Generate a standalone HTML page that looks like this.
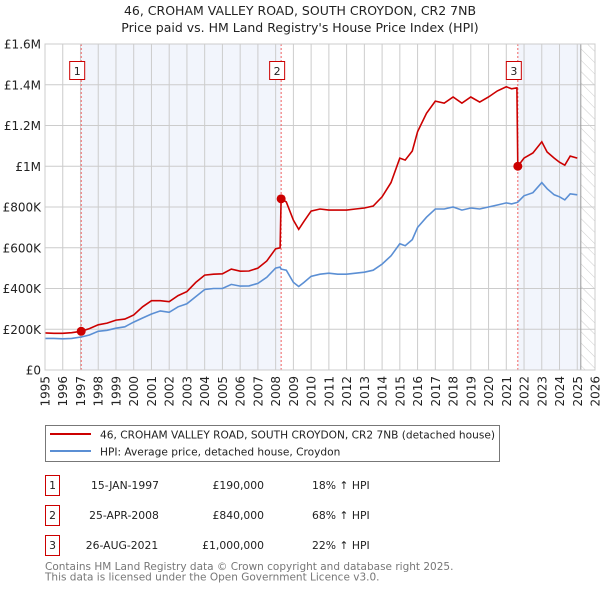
<!DOCTYPE html>
<html><head><meta charset="utf-8"><style>
body{margin:0;background:#fff;font-family:"DejaVu Sans","Liberation Sans",sans-serif;}
svg{display:block}
</style></head><body>
<svg id="chart" width="600" height="590" xmlns="http://www.w3.org/2000/svg" font-family="DejaVu Sans, Liberation Sans, sans-serif">
<text x="300" y="15" text-anchor="middle" font-size="12.5" fill="#222">46, CROHAM VALLEY ROAD, SOUTH CROYDON, CR2 7NB</text>
<text x="300" y="32" text-anchor="middle" font-size="12.5" fill="#222">Price paid vs. HM Land Registry's House Price Index (HPI)</text>
<defs><pattern id="hatch" width="8" height="8" patternUnits="userSpaceOnUse" patternTransform="rotate(-45)"><line x1="0" y1="0" x2="0" y2="8" stroke="#ccc" stroke-width="1"/></pattern></defs>
<g id="plot"></g>
<g>
<rect x="45.5" y="425.5" width="454" height="36" fill="#fff" stroke="#777"/>
<line x1="50" y1="434" x2="91" y2="434" stroke="#cc0000" stroke-width="2"/>
<text x="100" y="438.5" font-size="10.6" fill="#222">46, CROHAM VALLEY ROAD, SOUTH CROYDON, CR2 7NB (detached house)</text>
<line x1="50" y1="451" x2="91" y2="451" stroke="#5b8fd4" stroke-width="2"/>
<text x="100" y="455.5" font-size="10.6" fill="#222">HPI: Average price, detached house, Croydon</text>
</g>
<g font-size="10.8" fill="#222">
<rect x="45.5" y="475.5" width="14" height="20" fill="none" stroke="#cc0000"/><text x="52.5" y="489" text-anchor="middle">1</text>
<text x="125" y="489" text-anchor="middle">15-JAN-1997</text><text x="264" y="489" text-anchor="end">£190,000</text><text x="312" y="489">18% ↑ HPI</text>
<rect x="45.5" y="505.5" width="14" height="20" fill="none" stroke="#cc0000"/><text x="52.5" y="519" text-anchor="middle">2</text>
<text x="124" y="519" text-anchor="middle">25-APR-2008</text><text x="264" y="519" text-anchor="end">£840,000</text><text x="312" y="519">68% ↑ HPI</text>
<rect x="45.5" y="535.5" width="14" height="20" fill="none" stroke="#cc0000"/><text x="52.5" y="549" text-anchor="middle">3</text>
<text x="122" y="549" text-anchor="middle">26-AUG-2021</text><text x="264" y="549" text-anchor="end">£1,000,000</text><text x="312" y="549">22% ↑ HPI</text>
</g>
<text x="45" y="570" font-size="10.5" fill="#777">Contains HM Land Registry data © Crown copyright and database right 2025.</text>
<text x="45" y="580.5" font-size="10.5" fill="#777">This data is licensed under the Open Government Licence v3.0.</text>
</svg>
<script>
const years=[1995,1995.5,1996,1996.5,1997.04,1997.5,1998,1998.5,1999,1999.5,2000,2000.5,2001,2001.5,2002,2002.5,2003,2003.5,2004,2004.5,2005,2005.5,2006,2006.5,2007,2007.5,2008,2008.25,2008.31,2008.6,2009,2009.3,2009.6,2010,2010.5,2011,2011.5,2012,2012.5,2013,2013.5,2014,2014.5,2015,2015.3,2015.7,2016,2016.5,2017,2017.5,2018,2018.5,2019,2019.5,2020,2020.5,2021,2021.3,2021.6,2021.65,2022,2022.5,2023,2023.3,2023.7,2024,2024.3,2024.6,2025];
const hpiValues=[155,155,153,155,162,172,190,195,205,212,235,255,275,290,283,310,325,360,395,400,400,420,412,413,425,455,500,505,495,490,430,410,430,460,470,475,470,470,475,480,490,520,560,620,610,640,700,750,790,790,800,785,795,790,800,810,820,815,822,824,855,870,920,890,860,850,835,865,860];
const priceValues=[182,180,180,183,190,203,222,230,245,250,270,310,340,340,335,365,385,430,466,470,472,495,485,486,500,535,595,600,840,825,735,690,730,780,790,785,785,785,790,795,805,850,920,1040,1030,1075,1170,1260,1320,1310,1340,1310,1340,1315,1340,1370,1390,1380,1385,1000,1040,1065,1120,1070,1040,1020,1005,1050,1040];
const saleYears=[1997.04,2008.31,2021.65];
const salePrices=[190,840,1000];
const saleLabels=["1","2","3"];
const yTicks=[0,200,400,600,800,1000,1200,1400,1600];
const yTickLabels=["£0","£200K","£400K","£600K","£800K","£1M","£1.2M","£1.4M","£1.6M"];
const xTicks=[1995,1996,1997,1998,1999,2000,2001,2002,2003,2004,2005,2006,2007,2008,2009,2010,2011,2012,2013,2014,2015,2016,2017,2018,2019,2020,2021,2022,2023,2024,2025,2026];

const L=45,R=595,T=44,B=370;
const xs=v=>L+(v-1995)/(2026-1995)*(R-L);
const ys=v=>B-v/1600*(B-T);
const NS="http://www.w3.org/2000/svg";
const g=document.getElementById('plot');
function mk(tag,attrs,parent){const e=document.createElementNS(NS,tag);for(const k in attrs)e.setAttribute(k,attrs[k]);(parent||g).appendChild(e);return e;}

let r=mk('rect',{x:xs(saleYears[0]),y:T,width:xs(saleYears[1])-xs(saleYears[0]),height:B-T,fill:'#f2f5fc'});


r=mk('rect',{x:xs(saleYears[2]),y:T,width:xs(2025.2)-xs(saleYears[2]),height:B-T,fill:'#f2f5fc'});


r=mk('rect',{x:xs(2025.2),y:T,width:R-xs(2025.2),height:B-T,fill:'url(#hatch)'});



yTicks.forEach((v,i)=>{
  const ln=mk('line',{x1:L,x2:R,y1:ys(v),y2:ys(v),stroke:'#ccc','stroke-width':1});
  
  
  const t=mk('text',{x:L-4,y:ys(v)+4.5,'text-anchor':'end','font-size':12,fill:'#222'});
  t.textContent=yTickLabels[i];
  
  
});
xTicks.forEach(v=>{
  const ln=mk('line',{x1:xs(v),x2:xs(v),y1:T,y2:B,stroke:'#ccc','stroke-width':1});
  
  
  const t=mk('text',{x:0,y:0,'text-anchor':'end','font-size':12,fill:'#222',transform:`translate(${xs(v)+4.5},${B+6}) rotate(-90)`});
  t.textContent=v;
  
  
});
let ln=mk('line',{x1:xs(2025.2),x2:xs(2025.2),y1:T,y2:B,stroke:'#999','stroke-width':1});



saleYears.forEach((v,i)=>{
  const d=mk('line',{x1:xs(v),x2:xs(v),y1:T,y2:B,stroke:'#f06060','stroke-width':1,'stroke-dasharray':'2,2'});
  
  
  const bx=mk('rect',{x:xs(v)-11.5,y:61.5,width:15,height:18,fill:'#fff',stroke:'#cc0000'});
  
  
  const t=mk('text',{x:xs(v)-4,y:75,'text-anchor':'middle','font-size':11,fill:'#222'});
  t.textContent=saleLabels[i];
  
  
});

const pts=a=>a.map((v,i)=>xs(years[i]).toFixed(1)+','+ys(v).toFixed(1)).join(' ');
const hp=mk('polyline',{points:pts(hpiValues),fill:'none',stroke:'#5b8fd4','stroke-width':1.6});


const pp=mk('polyline',{points:pts(priceValues),fill:'none',stroke:'#cc0000','stroke-width':1.6});



saleYears.forEach((v,i)=>{
  const c=mk('circle',{cx:xs(v),cy:ys(salePrices[i]),r:4.5,fill:'#cc0000'});
  
  
});
const fr=mk('rect',{x:L,y:T,width:R-L,height:B-T,fill:'none',stroke:'#ccc'});


</script>
</body></html>
